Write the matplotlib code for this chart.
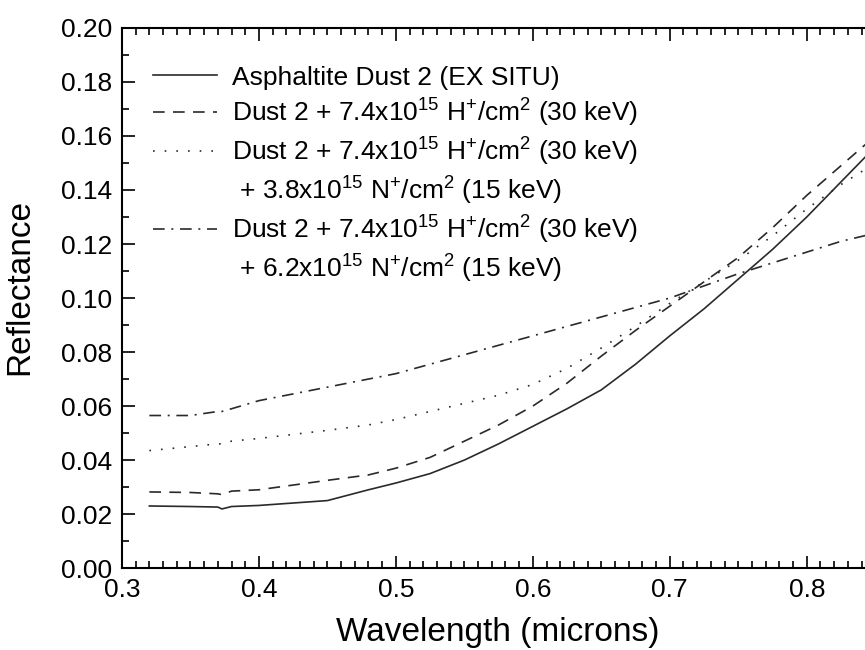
import numpy as np
import matplotlib.pyplot as plt
from matplotlib.lines import Line2D
from matplotlib.ticker import MultipleLocator

plt.rcParams["font.family"] = "Liberation Sans"
plt.rcParams["mathtext.fontset"] = "custom"
plt.rcParams["mathtext.rm"] = "Liberation Sans"
plt.rcParams["mathtext.it"] = "Liberation Sans"

# wavelength (microns)
wl = [0.32, 0.35, 0.37, 0.373, 0.38, 0.40, 0.45, 0.48, 0.50, 0.525, 0.55, 0.575, 0.60,
      0.625, 0.65, 0.675, 0.70, 0.725, 0.75, 0.775, 0.80, 0.825, 0.85]

ex_situ = [0.0230, 0.0228, 0.0226, 0.0219, 0.0228, 0.0232, 0.0250, 0.0290, 0.0315, 0.0350, 0.0400, 0.0460, 0.0525,
           0.0590, 0.0660, 0.0755, 0.0860, 0.0960, 0.1070, 0.1180, 0.1300, 0.1430, 0.1560]
h_only = [0.0282, 0.0280, 0.0275, 0.0272, 0.0285, 0.0290, 0.0325, 0.0345, 0.0370, 0.0410, 0.0470, 0.0530, 0.0600,
          0.0685, 0.0785, 0.0880, 0.0970, 0.1060, 0.1150, 0.1260, 0.1380, 0.1490, 0.1600]
h_n38 = [0.0435, 0.0450, 0.0460, 0.0460, 0.0470, 0.0480, 0.0510, 0.0530, 0.0550, 0.0580, 0.0610, 0.0640, 0.0680,
         0.0740, 0.0815, 0.0895, 0.0980, 0.1060, 0.1140, 0.1230, 0.1330, 0.1420, 0.1500]
h_n62 = [0.0565, 0.0565, 0.0580, 0.0580, 0.0590, 0.0620, 0.0670, 0.0700, 0.0720, 0.0755, 0.0790, 0.0825, 0.0860,
         0.0895, 0.0930, 0.0965, 0.1000, 0.1045, 0.1090, 0.1130, 0.1170, 0.1210, 0.1240]

labels = ["Asphaltite Dust 2 (EX SITU)",
          r"Dust 2 + 7.4x10$^{15}$ H$^{+}$/cm$^{2}$ (30 keV)",
          r"Dust 2 + 7.4x10$^{15}$ H$^{+}$/cm$^{2}$ (30 keV)",
          r" + 3.8x10$^{15}$ N$^{+}$/cm$^{2}$ (15 keV)",
          r"Dust 2 + 7.4x10$^{15}$ H$^{+}$/cm$^{2}$ (30 keV)",
          r" + 6.2x10$^{15}$ N$^{+}$/cm$^{2}$ (15 keV)"]

col = "#2a2a2a"
lw = 1.2

fig = plt.figure(figsize=(8.65, 6.5), dpi=100)
ax = fig.add_axes([0.141, 0.126, 0.950, 0.831])

l1, = ax.plot(wl, ex_situ, color=col, lw=lw, linestyle="-")
l2, = ax.plot(wl, h_only, color=col, lw=lw, linestyle=(0, (7, 5)))
l3, = ax.plot(wl, h_n38, color=col, lw=lw, linestyle=(0, (1, 6)))
l4, = ax.plot(wl, h_n62, color=col, lw=lw, linestyle=(0, (7, 4, 1.2, 4)))

blank = Line2D([], [], linestyle="none")
ax.legend([l1, l2, l3, blank, l4, blank], labels, loc="upper left",
          bbox_to_anchor=(0.025, 0.95), frameon=False, fontsize=19,
          handlelength=2.42, handletextpad=0.57, labelspacing=0.26,
          borderaxespad=0)

ax.set_xlim(0.3, 0.9)
ax.set_ylim(0.0, 0.2)
ax.xaxis.set_major_locator(MultipleLocator(0.1))
ax.xaxis.set_minor_locator(MultipleLocator(0.01))
ax.yaxis.set_major_locator(MultipleLocator(0.02))
ax.yaxis.set_minor_locator(MultipleLocator(0.01))
ax.set_xticks([0.3, 0.4, 0.5, 0.6, 0.7, 0.8])
ax.set_xticklabels(["0.3", "0.4", "0.5", "0.6", "0.7", "0.8"])
ax.set_yticklabels(["%.2f" % v for v in ax.get_yticks()])

ax.tick_params(which="both", direction="in", top=True, right=True, width=1.2, labelsize=19, pad=7)
ax.tick_params(which="major", length=9)
ax.tick_params(which="minor", length=5)
for s in ax.spines.values():
    s.set_linewidth(1.5)

ax.set_xlabel("Wavelength (microns)", fontsize=24)
ax.set_ylabel("Reflectance", fontsize=24)
ax.xaxis.set_label_coords(0.457, -0.09)
ax.yaxis.set_label_coords(-0.105, 0.52)

fig.savefig("out.png", dpi=100)
